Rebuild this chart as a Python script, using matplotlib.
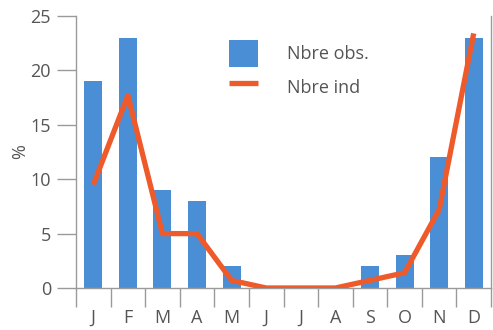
import matplotlib
matplotlib.use("Agg")
import matplotlib.pyplot as plt
from matplotlib.ticker import FixedLocator

months = ["J", "F", "M", "A", "M", "J", "J", "A", "S", "O", "N", "D"]
nbre_obs = [19, 23, 9, 8, 2, 0, 0, 0, 2, 3, 12, 23]
nbre_ind = [9.5, 17.7, 5, 5, 0.7, 0, 0, 0, 0.7, 1.4, 7.2, 23.4]
yticks = [0, 5, 10, 15, 20, 25]

plt.rcParams['font.family'] = ['Open Sans', 'DejaVu Sans']
txt = '#555555'
axc = '#9a9a9a'
fs = 13

fig = plt.figure(figsize=(4.93, 3.30), dpi=100)
ax = fig.add_axes([76/493, 1-288/330, (491-76)/493, (288-16)/330])

x = [i + 0.5 for i in range(len(months))]
bars = ax.bar(x, nbre_obs, width=0.52, color='#4a8fd6', label='Nbre obs.', zorder=2)
line, = ax.plot(x, nbre_ind, color='#ee5a2a', lw=3.8, solid_joinstyle='round',
                solid_capstyle='butt', label='Nbre ind', zorder=3)

ax.set_xlim(0, 12)
ax.set_ylim(0, 25)
ax.set_yticks(yticks)
ax.set_xticks(x)
ax.set_xticklabels(months)
ax.xaxis.set_minor_locator(FixedLocator(list(range(13))))
ax.tick_params(axis='x', which='major', length=0, pad=15, labelsize=fs, labelcolor=txt)
ax.tick_params(axis='x', which='minor', length=14, width=1, color=axc, direction='out')
ax.tick_params(axis='y', length=14, width=1, color=axc, labelsize=fs, labelcolor=txt, pad=4)
for s in ['left', 'bottom', 'right']:
    ax.spines[s].set_color(axc)
    ax.spines[s].set_linewidth(1)
ax.spines['top'].set_visible(False)
ax.set_ylabel('%', color=txt, fontsize=fs, labelpad=1)

leg = ax.legend([bars, line], ['Nbre obs.', 'Nbre ind'],
                loc='upper left', bbox_to_anchor=(229/493, 1-40/330),
                bbox_transform=fig.transFigure, borderpad=0, borderaxespad=0,
                frameon=False, fontsize=fs, handlelength=1.6, handleheight=1.9,
                labelspacing=0.39, handletextpad=1.6, labelcolor=txt)

fig.savefig('out.png', dpi=100)
